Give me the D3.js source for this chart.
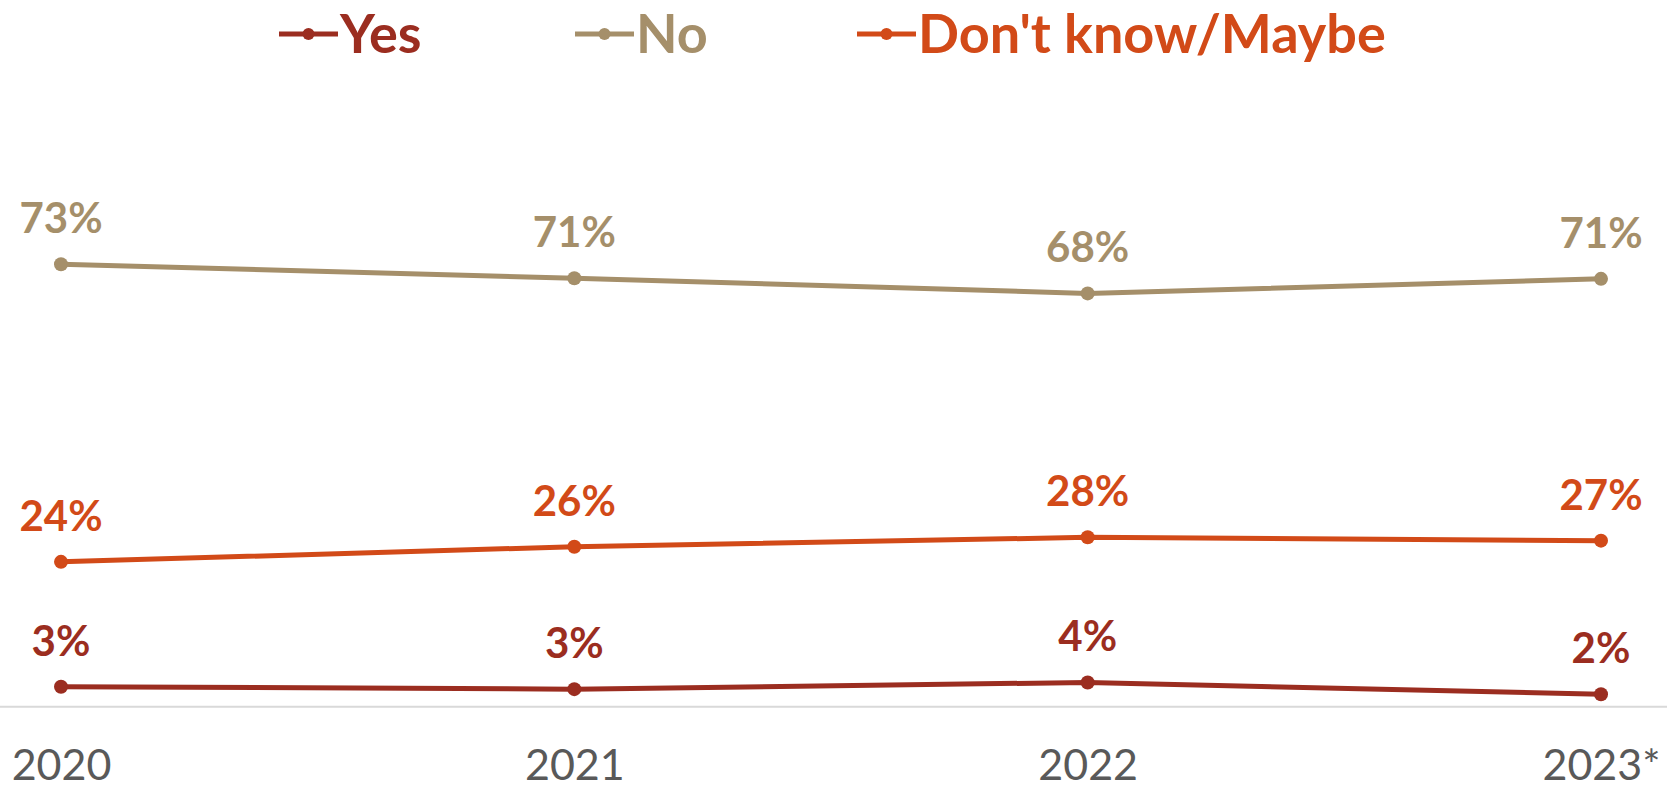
<!DOCTYPE html>
<html>
<head>
<meta charset="utf-8">
<script src="https://cdn.jsdelivr.net/npm/d3@7"></script>
<style>
  html, body { margin: 0; padding: 0; background: #ffffff; }
  svg { display: block; }
</style>
</head>
<body>
<svg id="chart" width="1667" height="788"></svg>
<script>
// ---- data ----
const years = ["2020", "2021", "2022", "2023*"];
const yesValues = [3.3, 2.9, 4.0, 2.05];
const noValues = [73.0, 70.7, 68.2, 70.6];
const dkValues = [23.9, 26.4, 27.95, 27.4];
const seriesNames = ["Yes", "No", "Don't know/Maybe"];

// ---- styling ----
const colors = { "Yes": "#9b2d20", "No": "#a58f6a", "Don't know/Maybe": "#d24a18" };
const FONT = "Lato, 'Open Sans', sans-serif";

const width = 1667, height = 788;
const svg = d3.select("#chart");

const x = d3.scalePoint().domain(years).range([61, 1601]);
const y = d3.scaleLinear().domain([0, 80]).range([706.7, 706.7 - 80 * 6.06]);

const series = [
  { name: "Yes", values: yesValues },
  { name: "No", values: noValues },
  { name: "Don't know/Maybe", values: dkValues }
];

// axis baseline
svg.append("line")
  .attr("x1", 0).attr("x2", width)
  .attr("y1", y(0)).attr("y2", y(0))
  .attr("stroke", "#d9d9d9").attr("stroke-width", 2);

// x axis labels
const xAxis = d3.axisBottom(x).tickSize(0).tickPadding(0);
const gx = svg.append("g").attr("transform", `translate(0, ${y(0)})`).call(xAxis);
gx.select(".domain").remove();
gx.selectAll("text")
  .attr("dy", null)
  .attr("y", 73)
  .attr("font-family", FONT)
  .attr("font-size", 43)
  .attr("fill", "#595959");

const line = d3.line().x((d, i) => x(years[i])).y(d => y(d));

series.forEach(s => {
  const g = svg.append("g");
  g.append("path")
    .datum(s.values)
    .attr("d", line)
    .attr("fill", "none")
    .attr("stroke", colors[s.name])
    .attr("stroke-width", 5)
    .attr("stroke-linejoin", "round");
  g.selectAll("circle")
    .data(s.values)
    .join("circle")
    .attr("cx", (d, i) => x(years[i]))
    .attr("cy", d => y(d))
    .attr("r", 7)
    .attr("fill", colors[s.name]);
  g.selectAll("text")
    .data(s.values)
    .join("text")
    .attr("x", (d, i) => x(years[i]))
    .attr("y", d => y(d) - 31)
    .attr("text-anchor", "middle")
    .attr("font-family", FONT)
    .attr("font-weight", "bold")
    .attr("font-size", 42)
    .attr("fill", colors[s.name])
    .text(d => Math.round(d) + "%");
});

// legend
const legendX = [279, 575, 857];
const legend = svg.append("g");
seriesNames.forEach((name, i) => {
  const g = legend.append("g").attr("transform", `translate(${legendX[i]}, 34)`);
  g.append("line").attr("x1", 0).attr("x2", 59).attr("y1", 0).attr("y2", 0)
    .attr("stroke", colors[name]).attr("stroke-width", 5);
  g.append("circle").attr("cx", 29.5).attr("cy", 0).attr("r", 6).attr("fill", colors[name]);
  g.append("text")
    .attr("x", 61).attr("y", 19)
    .attr("font-family", FONT)
    .attr("font-weight", "bold")
    .attr("font-size", 54)
    .attr("fill", colors[name])
    .text(name);
});
</script>
</body>
</html>
